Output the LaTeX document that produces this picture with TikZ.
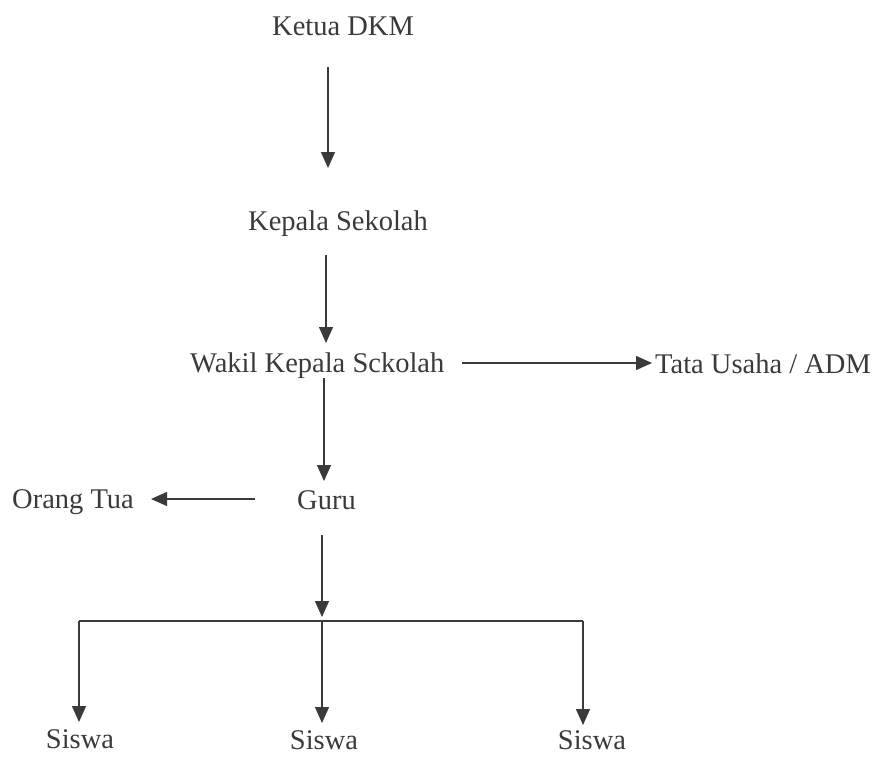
\documentclass[tikz,border=0pt]{standalone}
\usepackage{fontspec}
\setmainfont{Liberation Serif}
\usetikzlibrary{arrows.meta}
\definecolor{ink}{HTML}{3A3A3A}
\begin{document}
\begin{tikzpicture}[x=1pt,y=-1pt,
  lbl/.style={inner sep=0pt,anchor=base,text=ink,font=\fontsize{28.5}{34}\selectfont},
  lbll/.style={lbl,anchor=base west},
  conn/.style={draw=ink,line width=1.4pt},
  arr/.style={conn,-{Triangle[length=16pt,width=14pt]}}]
\useasboundingbox (0,0) rectangle (875,756);
% nodes
\node[lbll] (ketua)  at (272,35)  {Ketua DKM};
\node[lbll] (kepala) at (248,230) {Kepala Sekolah};
\node[lbll] (wakil)  at (190,372) {Wakil Kepala Sckolah};
\node[lbll] (tata)   at (655,373) {Tata Usaha / ADM};
\node[lbll] (guru)   at (297,509) {Guru};
\node[lbll] (ortu)   at (12,508)  {Orang Tua};
\node[lbl]  (siswaA) at (80,748)  {Siswa};
\node[lbl]  (siswaB) at (324,749) {Siswa};
\node[lbl]  (siswaC) at (592,749) {Siswa};
% spine positions
\coordinate (x1) at (328,0);
\coordinate (x2) at (326,0);
\coordinate (x3) at (324,0);
\coordinate (x4) at (322,0);
\coordinate (hW) at (0,363);
\coordinate (hG) at (0,499);
\coordinate (bA) at (79,621);
\coordinate (bB) at (322,621);
\coordinate (bC) at (583,621);
% connectors
\draw[arr,shorten <=32pt,shorten >=62pt] (ketua.base -| x1) -- (kepala.base -| x1);
\draw[arr,shorten <=25pt,shorten >=29pt] (kepala.base -| x2) -- (wakil.base -| x2);
\draw[arr,shorten <=6pt,shorten >=28pt] (wakil.base -| x3) -- (guru.base -| x3);
\draw[arr,shorten <=17pt,shorten >=3pt] (wakil.east |- hW) -- (tata.west |- hW);
\draw[arr,shorten <=42pt,shorten >=17pt] (guru.west |- hG) -- (ortu.east |- hG);
\draw[arr,shorten <=26pt,shorten >=4pt] (guru.base -| x4) -- (bB);
\draw[conn] (bA) -- (bC);
\draw[arr,shorten >=26pt] (bA) -- (siswaA.base -| bA);
\draw[arr,shorten >=26pt] (bB) -- (siswaB.base -| bB);
\draw[arr,shorten >=24pt] (bC) -- (siswaC.base -| bC);
\end{tikzpicture}
\end{document}
